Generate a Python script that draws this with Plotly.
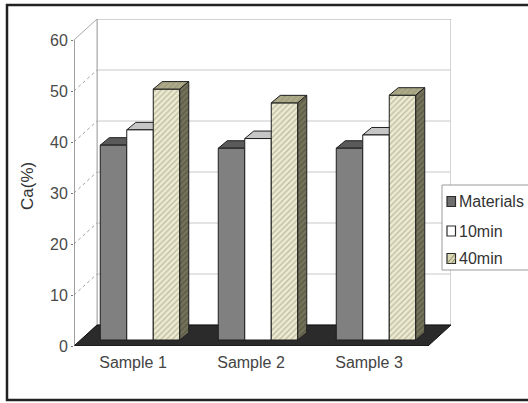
import plotly.graph_objects as go

# ---- data -------------------------------------------------------------
categories = ["Sample 1", "Sample 2", "Sample 3"]
series_names = ["Materials", "10min", "40min"]
materials = [38.2, 37.6, 37.6]
min10 = [41.2, 39.5, 40.2]
min40 = [49.2, 46.5, 48.0]
y_ticks = [0, 10, 20, 30, 40, 50, 60]

series_values = [materials, min10, min40]

# ---- styling per series (front / top / side faces) ---------------------
front_colors = ["#808080", "#ffffff", "#ecead0"]
top_colors = ["#5a5a5a", "#c6c6c6", "#aeab8a"]
side_colors = ["#3f3f3f", "#9a9a9a", "#74725a"]
hatch = [None, None, "/"]
hatch_fg = [None, None, "#8c8a6c"]
hatch_fg_dark = [None, None, "#3c3b2c"]

# ---- geometry of the pseudo-3D box (pixels) ---------------------------
W, H = 528, 403
LEFT = 74            # x pixel of the front value axis
FLOOR_PX = 346       # y pixel of the front floor edge (value 0)
PX_CAT = 118         # pixels per category
PX_VAL = 5.1         # pixels per percent
DEPTH_X, DEPTH_Y = 23, 21          # depth of walls / floor
BAR_SHIFT_X, BAR_SHIFT_Y = 7, 6    # bar front faces sit behind the floor edge
BAR_W = 26.5                       # bar width
BAR_DX, BAR_DY = 9, 7.5            # bar depth
Y_MAX = y_ticks[-1]

n_cat = len(categories)
plot_w = n_cat * PX_CAT + DEPTH_X
plot_h = Y_MAX * PX_VAL + DEPTH_Y
m_l = LEFT
m_r = W - LEFT - plot_w
m_b = H - FLOOR_PX
m_t = H - m_b - plot_h

ux = 1.0 / PX_CAT
uy = 1.0 / PX_VAL
x_lo, x_hi = -0.5, n_cat - 0.5
dX, dY = DEPTH_X * ux, DEPTH_Y * uy


def paper_x(px):
    return (px - m_l) / plot_w


def paper_y(py):
    return (FLOOR_PX - py) / plot_h


def poly(points):
    return "M " + " L ".join(f"{x},{y}" for x, y in points) + " Z"


shapes = []

# back wall
shapes.append(dict(type="rect", xref="x", yref="y", layer="below",
                   x0=x_lo + dX, x1=x_hi + dX, y0=dY, y1=Y_MAX + dY,
                   fillcolor="white", line=dict(color="#a8a8a8", width=1)))
for v in y_ticks[1:-1]:
    shapes.append(dict(type="line", xref="x", yref="y", layer="below",
                       x0=x_lo + dX, x1=x_hi + dX, y0=v + dY, y1=v + dY,
                       line=dict(color="#c8c8c8", width=1)))
# left side wall
shapes.append(dict(type="path", xref="x", yref="y", layer="below",
                   path=poly([(x_lo, 0), (x_lo, Y_MAX), (x_lo + dX, Y_MAX + dY), (x_lo + dX, dY)]),
                   fillcolor="white", line=dict(color="#a8a8a8", width=1)))
for v in y_ticks[1:-1]:
    shapes.append(dict(type="line", xref="x", yref="y", layer="below",
                       x0=x_lo, x1=x_lo + dX, y0=v, y1=v + dY,
                       line=dict(color="#a0a0a0", width=1, dash="dot")))
# floor
shapes.append(dict(type="path", xref="x", yref="y", layer="below",
                   path=poly([(x_lo, 0), (x_hi, 0), (x_hi + dX, dY), (x_lo + dX, dY)]),
                   fillcolor="#2b2b2b", line=dict(color="#111111", width=1)))
# front value axis
shapes.append(dict(type="line", xref="x", yref="y", layer="below",
                   x0=x_lo, x1=x_lo, y0=0, y1=Y_MAX,
                   line=dict(color="#6e6e6e", width=1)))

fig = go.Figure()

base = BAR_SHIFT_Y * uy
bw = BAR_W * ux
ddx, ddy = BAR_DX * ux, BAR_DY * uy
last = len(series_names) - 1

for k, (name, vals) in enumerate(zip(series_names, series_values)):
    offset = (BAR_SHIFT_X - 1.5 * BAR_W + k * BAR_W) * ux
    marker = dict(color=front_colors[k], line=dict(color="#1e1e1e", width=1))
    if hatch[k]:
        marker["pattern"] = dict(shape=hatch[k], fgcolor=hatch_fg[k], fillmode="overlay",
                                 size=4, solidity=0.3)
    fig.add_trace(go.Bar(x=list(range(n_cat)), y=vals, base=base, width=bw,
                         offset=offset, name=name, marker=marker, showlegend=False))

    for i, v in enumerate(vals):
        xl = i + offset
        xr = xl + bw
        yb, yt = base, base + v
        top = [(xl, yt), (xr, yt), (xr + ddx, yt + ddy), (xl + ddx, yt + ddy)]
        side = [(xr, yb), (xr, yt), (xr + ddx, yt + ddy), (xr + ddx, yb + ddy)]
        if k == last:
            # outermost bar of each cluster: faces are fully visible, keep the hatch
            for pts, col, fg in ((top, top_colors[k], hatch_fg[k]), (side, side_colors[k], hatch_fg_dark[k])):
                xs = [p[0] for p in pts] + [pts[0][0]]
                ys = [p[1] for p in pts] + [pts[0][1]]
                fig.add_trace(go.Scatter(
                    x=xs, y=ys, mode="lines", fill="toself", fillcolor=col,
                    fillpattern=dict(shape=hatch[k], fgcolor=fg, fillmode="overlay",
                                     size=4, solidity=0.3) if hatch[k] else None,
                    line=dict(color="#1e1e1e", width=1), hoverinfo="skip",
                    showlegend=False))
        else:
            # faces partly hidden behind the neighbouring bar: drawn underneath the bars
            shapes.append(dict(type="path", xref="x", yref="y", layer="below",
                               path=poly(side), fillcolor=side_colors[k],
                               line=dict(color="#1e1e1e", width=1)))
            shapes.append(dict(type="path", xref="x", yref="y", layer="below",
                               path=poly(top), fillcolor=top_colors[k],
                               line=dict(color="#1e1e1e", width=1)))

# legend box (open on the right, running off the canvas)
LEG_L, LEG_T, LEG_B = 442, 185, 270
shapes.append(dict(type="path", xref="paper", yref="paper", layer="above",
                   path=poly([(paper_x(W + 40), paper_y(LEG_T)), (paper_x(LEG_L), paper_y(LEG_T)),
                              (paper_x(LEG_L), paper_y(LEG_B)), (paper_x(W + 40), paper_y(LEG_B))]),
                   fillcolor="white", line=dict(color="#9a9a9a", width=1)))
annotations = []
legend_rows = [201.5, 231, 258.5]
swatch_fill = ["#6e6e6e", "#ffffff", "#d9d6b2"]
for k, (name, row) in enumerate(zip(series_names, legend_rows)):
    shapes.append(dict(type="rect", xref="paper", yref="paper", layer="above",
                       x0=paper_x(447), x1=paper_x(455.5), y0=paper_y(row + 5), y1=paper_y(row - 5),
                       fillcolor=swatch_fill[k], line=dict(color="#2a2a2a", width=1.2)))
    if hatch[k]:
        for t in (0.0, 0.5):
            shapes.append(dict(type="line", xref="paper", yref="paper", layer="above",
                               x0=paper_x(447 + 8.5 * t), y0=paper_y(row + 5),
                               x1=paper_x(455.5), y1=paper_y(row - 5 + 10 * t),
                               line=dict(color="#8c8a6c", width=1)))
    annotations.append(dict(xref="paper", yref="paper", x=paper_x(457.5), y=paper_y(row),
                            xanchor="left", yanchor="middle", text=name, showarrow=False,
                            font=dict(size=16, color="#333333")))

# outer frame: top, left and bottom edges (the right edge lies past the canvas)
frame_pts = [(paper_x(W + 40), paper_y(5)), (paper_x(7), paper_y(5)),
             (paper_x(7), paper_y(400)), (paper_x(W + 40), paper_y(400))]
shapes.append(dict(type="path", xref="paper", yref="paper", layer="above",
                   path="M " + " L ".join(f"{x},{y}" for x, y in frame_pts),
                   line=dict(color="#222222", width=2.5)))

# value-axis title
annotations.append(dict(xref="paper", yref="paper", x=paper_x(27), y=paper_y(186),
                        text="Ca(%)", textangle=-90, showarrow=False,
                        xanchor="center", yanchor="middle",
                        font=dict(size=17, color="#333333")))

fig.update_layout(
    width=W, height=H, autosize=False,
    margin=dict(l=m_l, r=m_r, t=m_t, b=m_b, pad=0),
    paper_bgcolor="white", plot_bgcolor="white",
    barmode="overlay", showlegend=False,
    font=dict(family="Liberation Sans, Arial, sans-serif", color="#444444"),
    shapes=shapes, annotations=annotations,
    xaxis=dict(range=[x_lo, x_lo + plot_w * ux], tickvals=list(range(n_cat)),
               ticktext=categories, showgrid=False, zeroline=False, showline=False,
               ticks="", ticklabelstandoff=5, tickfont=dict(size=16, color="#444444"),
               fixedrange=True),
    yaxis=dict(range=[0, plot_h * uy], tickvals=y_ticks, showgrid=False, zeroline=False,
               showline=False, ticks="outside", ticklen=2, tickcolor="#777777",
               tickfont=dict(size=16, color="#4a4a4a"), fixedrange=True),
)

fig.write_html("out.html")
